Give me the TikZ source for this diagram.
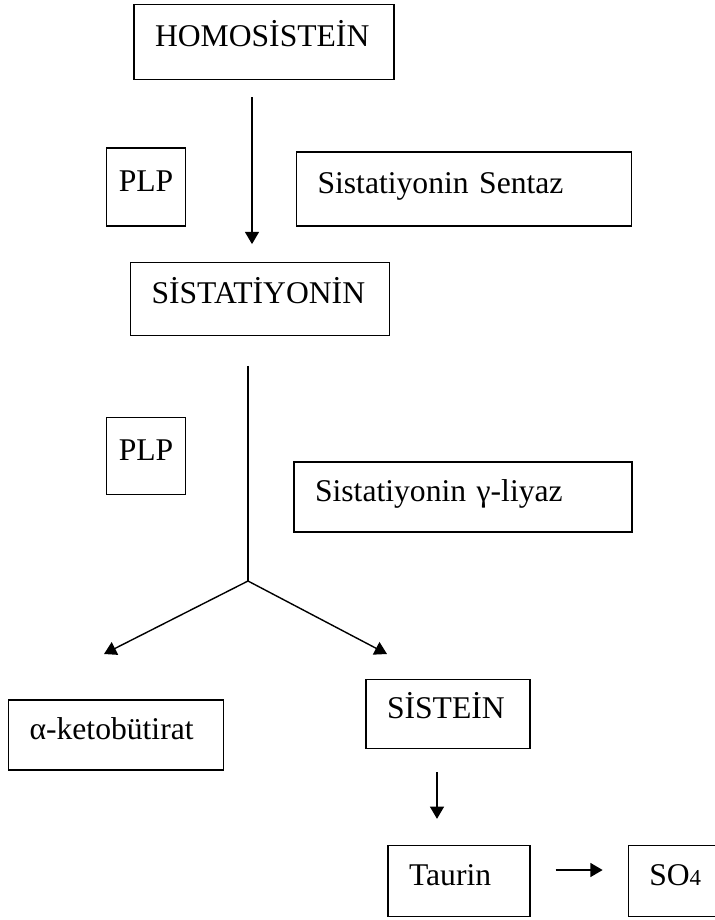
\documentclass[tikz,border=0pt]{standalone}
\usepackage{fontspec}
\setmainfont{Liberation Serif}
\usetikzlibrary{positioning, arrows.meta, calc}

\begin{document}
\begin{tikzpicture}[
      x=0.02cm, y=-0.02cm,
      font=\fontsize{18}{22}\selectfont,
      box/.style={draw, line width=0.75pt, minimum height=1.45cm, inner xsep=0.42cm, align=left, text height=12pt, text depth=7pt},
      cofactor/.style={box, inner xsep=0.22cm, text width=1.14cm, align=center},
      arr/.style={-{Triangle[length=7pt, width=8pt]}, line width=0.8pt}
    ]
    \useasboundingbox (0,0) rectangle (715,920);
    %% transsulfuration chain
    \node[box, text width=4.36cm, minimum height=1.5cm] (homo) at (264,42) {HOMOSİSTEİN};
    \node[cofactor, minimum height=1.56cm] (plp1) at (146,187) {PLP};
    \node[box, text width=5.86cm, minimum height=1.48cm] (cbs) at (464,189) {Sistatiyonin Sentaz};
    \node[box, text width=4.34cm] (cth) at (260,299) {SİSTATİYONİN};
    \node[cofactor, minimum height=1.54cm] (plp2) at (146,456) {PLP};
    \node[box, text width=5.92cm, minimum height=1.4cm] (cgl) at (463,497) {Sistatiyonin γ-liyaz};
    %% products
    \node[box, text width=3.46cm, minimum height=1.4cm] (akb) at (116,735) {α-ketobütirat};
    \node[box, text width=2.44cm, minimum height=1.38cm] (cys) at (448,714) {SİSTEİN};
    \node[box, text width=2.0cm, minimum height=1.42cm] (taurin) at (459,881) {Taurin};
    \node[box, text width=1.06cm, minimum height=1.42cm, right=1.94cm of taurin] (so4) {SO{\fontsize{13}{13}\selectfont 4}};
    %% connectors
    \coordinate (spineA) at (252,0);
    \coordinate (spineB) at (437,0);
    \coordinate (fork) at (248,581);
    \coordinate (tipL) at (104,654);
    \coordinate (tipR) at (387,654);
    \draw[arr, shorten <=0.34cm, shorten >=0.36cm] (homo.south -| spineA) -- (cth.north -| spineA);
    \draw[line width=0.75pt, shorten <=0.6cm] (cth.south -| fork) -- (fork);
    \draw[arr] (fork) -- (tipL);
    \draw[arr] (fork) -- (tipR);
    \draw[arr, shorten <=0.46cm, shorten >=0.52cm] (cys.south -| spineB) -- (taurin.north -| spineB);
    \draw[arr, shorten <=0.5cm, shorten >=0.5cm] ([yshift=0.22cm]taurin.east) -- ([yshift=0.22cm]so4.west);
  \end{tikzpicture}
\end{document}
